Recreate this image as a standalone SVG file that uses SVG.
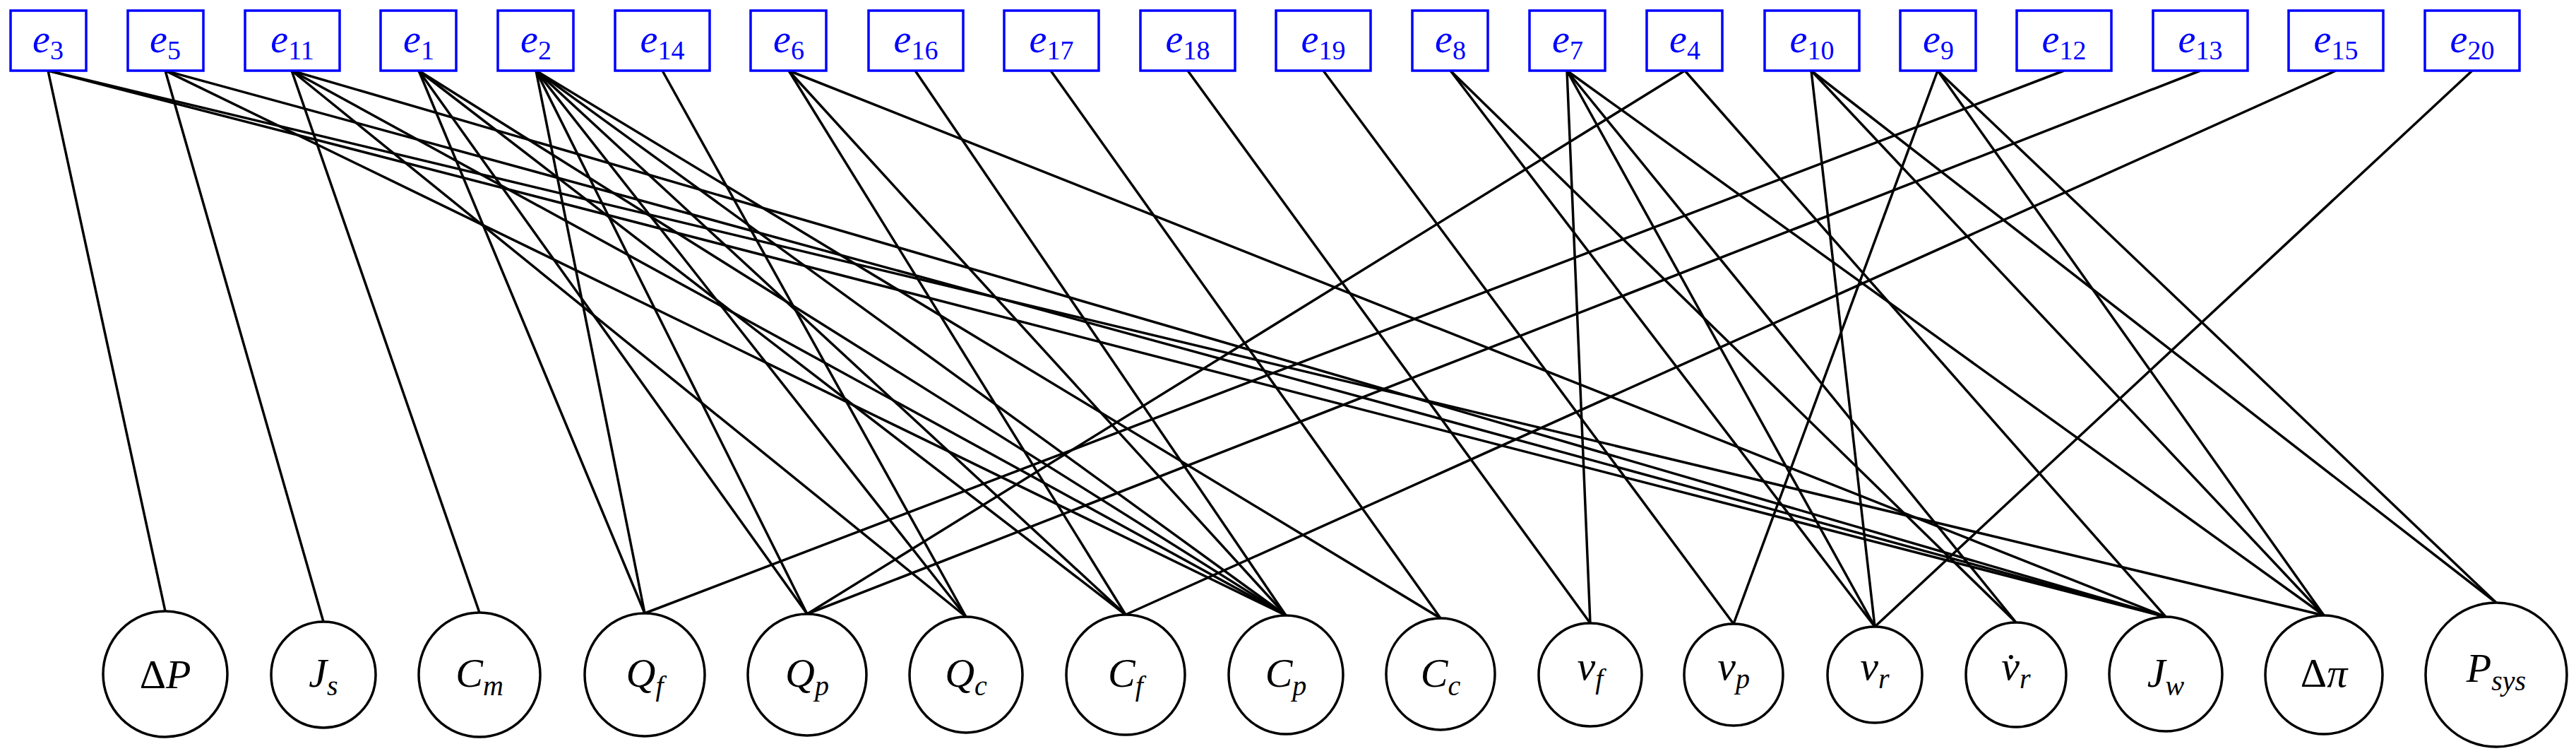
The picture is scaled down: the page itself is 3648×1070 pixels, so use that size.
<svg xmlns="http://www.w3.org/2000/svg" width="3648" height="1070" viewBox="0 0 3648 1070">
<style>
.b{fill:#fff;stroke:#00f;stroke-width:3.5}
.bt{font-family:"Liberation Serif",serif;font-style:italic;font-size:56px;fill:#00f;text-anchor:middle}
.s{font-size:38px;font-style:normal}
.n{fill:#fff;stroke:#000;stroke-width:3.5}
.nt{font-family:"Liberation Serif",serif;font-style:italic;font-size:58px;fill:#000;text-anchor:middle}
.ns{font-size:40px}
.u{font-style:normal}
#edges line{stroke:#000;stroke-width:3.5}
</style>
<g id="edges">
<line x1="68" y1="100" x2="234" y2="865"/>
<line x1="68" y1="100" x2="3067" y2="873"/>
<line x1="68" y1="100" x2="3291" y2="871"/>
<line x1="234" y1="100" x2="458" y2="880"/>
<line x1="234" y1="100" x2="1821" y2="871"/>
<line x1="234" y1="100" x2="3067" y2="873"/>
<line x1="413" y1="100" x2="679" y2="867"/>
<line x1="413" y1="100" x2="1368" y2="873"/>
<line x1="413" y1="100" x2="1821" y2="871"/>
<line x1="413" y1="100" x2="3067" y2="873"/>
<line x1="593" y1="100" x2="913" y2="868"/>
<line x1="593" y1="100" x2="1143" y2="869"/>
<line x1="593" y1="100" x2="1594" y2="870"/>
<line x1="593" y1="100" x2="1821" y2="871"/>
<line x1="759" y1="100" x2="913" y2="868"/>
<line x1="759" y1="100" x2="1143" y2="869"/>
<line x1="759" y1="100" x2="1368" y2="873"/>
<line x1="759" y1="100" x2="1594" y2="870"/>
<line x1="759" y1="100" x2="1821" y2="871"/>
<line x1="759" y1="100" x2="2040" y2="875"/>
<line x1="938" y1="100" x2="1368" y2="873"/>
<line x1="1117" y1="100" x2="1594" y2="870"/>
<line x1="1117" y1="100" x2="1821" y2="871"/>
<line x1="1117" y1="100" x2="3067" y2="873"/>
<line x1="1296" y1="100" x2="1821" y2="871"/>
<line x1="1488" y1="100" x2="2040" y2="875"/>
<line x1="1682" y1="100" x2="2252" y2="882"/>
<line x1="1874" y1="100" x2="2455" y2="883"/>
<line x1="2054" y1="100" x2="2655" y2="887"/>
<line x1="2054" y1="100" x2="2855" y2="881"/>
<line x1="2219" y1="100" x2="2252" y2="882"/>
<line x1="2219" y1="100" x2="2655" y2="887"/>
<line x1="2219" y1="100" x2="2855" y2="881"/>
<line x1="2219" y1="100" x2="3291" y2="871"/>
<line x1="2386" y1="100" x2="1143" y2="869"/>
<line x1="2386" y1="100" x2="3067" y2="873"/>
<line x1="2565" y1="100" x2="2655" y2="887"/>
<line x1="2565" y1="100" x2="3291" y2="871"/>
<line x1="2565" y1="100" x2="3535" y2="853"/>
<line x1="2744" y1="100" x2="2455" y2="883"/>
<line x1="2744" y1="100" x2="3291" y2="871"/>
<line x1="2744" y1="100" x2="3535" y2="853"/>
<line x1="2923" y1="100" x2="913" y2="868"/>
<line x1="3116" y1="100" x2="1143" y2="869"/>
<line x1="3308" y1="100" x2="1594" y2="870"/>
<line x1="3501" y1="100" x2="2655" y2="887"/>
</g>
<g id="e3"><rect class="b" x="15" y="15" width="107" height="85"/><text class="bt" x="68" y="74">e<tspan class="s" dy="10">3</tspan></text></g>
<g id="e5"><rect class="b" x="181" y="15" width="107" height="85"/><text class="bt" x="234" y="74">e<tspan class="s" dy="10">5</tspan></text></g>
<g id="e11"><rect class="b" x="347" y="15" width="134" height="85"/><text class="bt" x="414" y="74">e<tspan class="s" dy="10">11</tspan></text></g>
<g id="e1"><rect class="b" x="539" y="15" width="107" height="85"/><text class="bt" x="593" y="74">e<tspan class="s" dy="10">1</tspan></text></g>
<g id="e2"><rect class="b" x="705" y="15" width="107" height="85"/><text class="bt" x="759" y="74">e<tspan class="s" dy="10">2</tspan></text></g>
<g id="e14"><rect class="b" x="871" y="15" width="134" height="85"/><text class="bt" x="938" y="74">e<tspan class="s" dy="10">14</tspan></text></g>
<g id="e6"><rect class="b" x="1063" y="15" width="107" height="85"/><text class="bt" x="1117" y="74">e<tspan class="s" dy="10">6</tspan></text></g>
<g id="e16"><rect class="b" x="1230" y="15" width="134" height="85"/><text class="bt" x="1297" y="74">e<tspan class="s" dy="10">16</tspan></text></g>
<g id="e17"><rect class="b" x="1422" y="15" width="134" height="85"/><text class="bt" x="1489" y="74">e<tspan class="s" dy="10">17</tspan></text></g>
<g id="e18"><rect class="b" x="1615" y="15" width="134" height="85"/><text class="bt" x="1682" y="74">e<tspan class="s" dy="10">18</tspan></text></g>
<g id="e19"><rect class="b" x="1807" y="15" width="134" height="85"/><text class="bt" x="1874" y="74">e<tspan class="s" dy="10">19</tspan></text></g>
<g id="e8"><rect class="b" x="2000" y="15" width="107" height="85"/><text class="bt" x="2054" y="74">e<tspan class="s" dy="10">8</tspan></text></g>
<g id="e7"><rect class="b" x="2166" y="15" width="107" height="85"/><text class="bt" x="2220" y="74">e<tspan class="s" dy="10">7</tspan></text></g>
<g id="e4"><rect class="b" x="2332" y="15" width="107" height="85"/><text class="bt" x="2386" y="74">e<tspan class="s" dy="10">4</tspan></text></g>
<g id="e10"><rect class="b" x="2499" y="15" width="134" height="85"/><text class="bt" x="2566" y="74">e<tspan class="s" dy="10">10</tspan></text></g>
<g id="e9"><rect class="b" x="2691" y="15" width="107" height="85"/><text class="bt" x="2745" y="74">e<tspan class="s" dy="10">9</tspan></text></g>
<g id="e12"><rect class="b" x="2856" y="15" width="134" height="85"/><text class="bt" x="2923" y="74">e<tspan class="s" dy="10">12</tspan></text></g>
<g id="e13"><rect class="b" x="3049" y="15" width="134" height="85"/><text class="bt" x="3116" y="74">e<tspan class="s" dy="10">13</tspan></text></g>
<g id="e15"><rect class="b" x="3241" y="15" width="134" height="85"/><text class="bt" x="3308" y="74">e<tspan class="s" dy="10">15</tspan></text></g>
<g id="e20"><rect class="b" x="3434" y="15" width="134" height="85"/><text class="bt" x="3501" y="74">e<tspan class="s" dy="10">20</tspan></text></g>

<g id="dP"><ellipse class="n" cx="234" cy="954" rx="88" ry="89"/><text class="nt" x="234" y="974"><tspan class="u">Δ</tspan>P</text></g>
<g id="Js"><ellipse class="n" cx="458" cy="955" rx="74" ry="75"/><text class="nt" x="458" y="972">J<tspan class="ns" dy="12">s</tspan></text></g>
<g id="Cm"><ellipse class="n" cx="679" cy="955" rx="86" ry="88"/><text class="nt" x="679" y="972">C<tspan class="ns" dy="12">m</tspan></text></g>
<g id="Qf"><ellipse class="n" cx="913" cy="955" rx="85" ry="87"/><text class="nt" x="913" y="972">Q<tspan class="ns" dy="12">f</tspan></text></g>
<g id="Qp"><ellipse class="n" cx="1143" cy="955" rx="84" ry="86"/><text class="nt" x="1143" y="972">Q<tspan class="ns" dy="12">p</tspan></text></g>
<g id="Qc"><ellipse class="n" cx="1368" cy="955" rx="80" ry="82"/><text class="nt" x="1368" y="972">Q<tspan class="ns" dy="12">c</tspan></text></g>
<g id="Cf"><ellipse class="n" cx="1594" cy="955" rx="84" ry="85"/><text class="nt" x="1594" y="972">C<tspan class="ns" dy="12">f</tspan></text></g>
<g id="Cp"><ellipse class="n" cx="1821" cy="955" rx="81" ry="84"/><text class="nt" x="1821" y="972">C<tspan class="ns" dy="12">p</tspan></text></g>
<g id="Cc"><ellipse class="n" cx="2040" cy="954" rx="77" ry="79"/><text class="nt" x="2040" y="972">C<tspan class="ns" dy="12">c</tspan></text></g>
<g id="vf"><ellipse class="n" cx="2252" cy="955" rx="73" ry="73"/><text class="nt" x="2252" y="962">v<tspan class="ns" dy="12">f</tspan></text></g>
<g id="vp"><ellipse class="n" cx="2455" cy="955" rx="70" ry="72"/><text class="nt" x="2455" y="962">v<tspan class="ns" dy="12">p</tspan></text></g>
<g id="vr"><ellipse class="n" cx="2655" cy="955" rx="67" ry="68"/><text class="nt" x="2655" y="962">v<tspan class="ns" dy="12">r</tspan></text></g>
<g id="vdr"><ellipse class="n" cx="2855" cy="955" rx="71" ry="74"/><text class="nt" x="2855" y="962">v̇<tspan class="ns" dy="12">r</tspan></text></g>
<g id="Jw"><ellipse class="n" cx="3067" cy="954" rx="80" ry="81"/><text class="nt" x="3067" y="972">J<tspan class="ns" dy="12">w</tspan></text></g>
<g id="dpi"><ellipse class="n" cx="3291" cy="955" rx="83" ry="84"/><text class="nt" x="3291" y="972"><tspan class="u">Δ</tspan>π</text></g>
<g id="Psys"><ellipse class="n" cx="3535" cy="955" rx="100" ry="102"/><text class="nt" x="3535" y="965">P<tspan class="ns" dy="12">sys</tspan></text></g>
</svg>
